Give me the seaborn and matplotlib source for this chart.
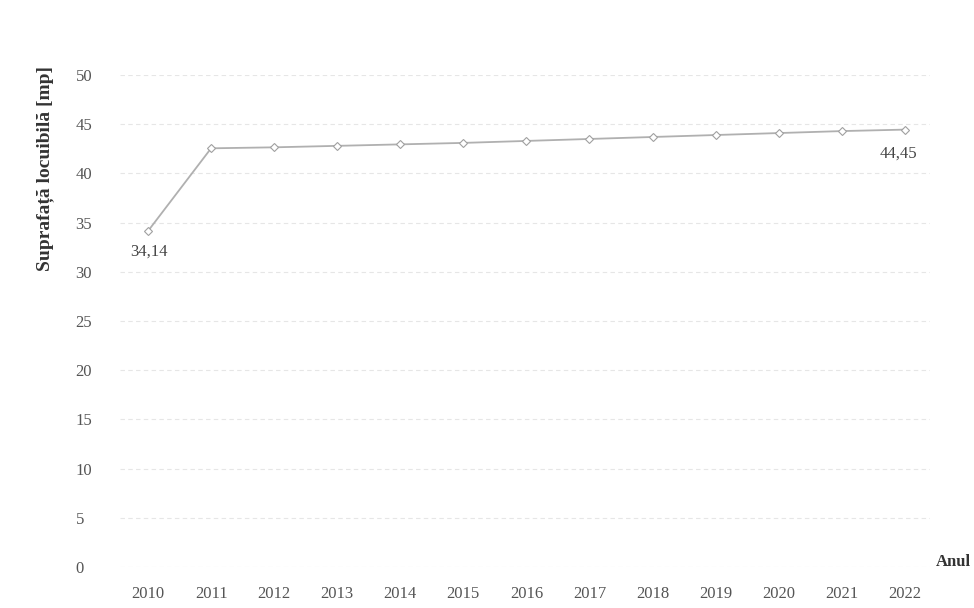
import matplotlib
matplotlib.use("Agg")
import matplotlib.pyplot as plt
import seaborn as sns
import pandas as pd

years = [2010, 2011, 2012, 2013, 2014, 2015, 2016, 2017, 2018, 2019, 2020, 2021, 2022]
surface = [34.14, 42.55, 42.65, 42.8, 42.95, 43.1, 43.3, 43.5, 43.7, 43.9, 44.1, 44.3, 44.45]
labels = {0: "34,14", 12: "44,45"}

df = pd.DataFrame({"An": years, "Suprafata": surface})

sns.set_theme(style="white")
plt.rcParams["font.family"] = ["Liberation Serif", "DejaVu Serif"]

fig = plt.figure(figsize=(9.74, 6.08), dpi=100)
ax = fig.add_axes([120/974, 41/608, 810/974, 492/608])

for yv in range(0, 51, 5):
    ax.axhline(yv, color="#e6e6e6", lw=0.8, ls=(0, (4, 3)), zorder=0)

sns.lineplot(data=df, x="An", y="Suprafata", ax=ax, color="#b0b0b0", lw=1.3,
             marker="D", markersize=4, markerfacecolor="white",
             markeredgecolor="#a0a0a0", markeredgewidth=0.8)

ax.text(years[0] - 0.28, surface[0] - 1.3, labels[0], fontsize=12, color="#444444",
        ha="left", va="top")
ax.text(years[12] - 0.1, surface[12] - 1.6, labels[12], fontsize=12, color="#444444",
        ha="center", va="top")

ax.set_xlim(2009.556, 2022.4)
ax.set_ylim(0, 50)
ax.set_xticks(years)
ax.set_xticklabels([str(y) for y in years])
ax.set_yticks(range(0, 51, 5))
ax.tick_params(axis="x", labelsize=12, colors="#555555", length=0, pad=14)
ax.tick_params(axis="y", labelsize=12, colors="#555555", length=0, pad=32)
for lab in ax.get_yticklabels():
    lab.set_horizontalalignment("left")
for s in ax.spines.values():
    s.set_visible(False)
ax.set_xlabel("")
ax.set_ylabel("Suprafață locuibilă [mp]", fontsize=14, fontweight="bold", color="#333333")
ax.yaxis.set_label_coords(-66/810, 0.81)
fig.text(936/974, 1 - 562/608, "Anul", fontsize=12, fontweight="bold", color="#333333",
         ha="left", va="center")

fig.savefig("out.png", dpi=100)
